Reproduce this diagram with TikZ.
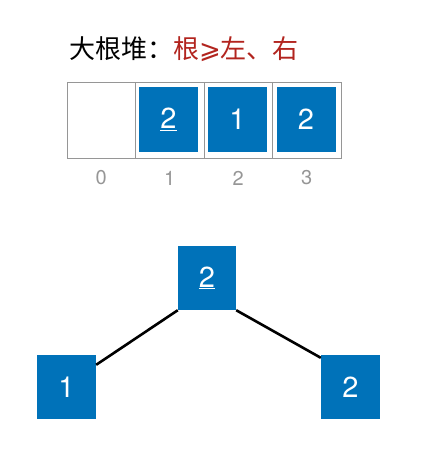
\documentclass[tikz,border=0pt]{standalone}
\usepackage{fontspec}
\setmainfont{TeX Gyre Heros}
\newfontfamily\cjk{Noto Sans CJK SC}
\newfontfamily\symf{DejaVu Sans}
\definecolor{boxblue}{RGB}{0,114,185}
\definecolor{titlered}{RGB}{178,36,30}
\definecolor{cellgray}{RGB}{150,150,150}
\tikzset{
  cellbox/.style={draw=cellgray, line width=0.8pt, minimum width=68.5pt, minimum height=76pt, inner sep=0pt},
  keybox/.style={fill=boxblue, minimum width=59pt, minimum height=65pt, inner sep=0pt, text=white, font=\fontsize{29}{33}\selectfont},
  idx/.style={text=cellgray, font=\fontsize{20}{24}\selectfont},
  edge/.style={line width=2.6pt, black}
}
\begin{document}
\begin{tikzpicture}[x=1pt,y=-1pt]
\useasboundingbox (0,0) rectangle (441,458);
% title
\node[anchor=west, inner sep=0pt, font=\cjk\fontsize{26}{30}\selectfont] (title) at (69,49) {大根堆：\textcolor{titlered}{根{\symf ⩾}左、右}};
% array cells
\foreach \i/\x in {0/101.25,1/169.75,2/238.25,3/306.75}{
  \node[cellbox] (c\i) at (\x,120) {};
  \node[idx] (i\i) at (\x,178) {\i};
}
\node[keybox] (a1) at (168.5,119.5) {\underline{2}};
\node[keybox] (a2) at (237.5,119.5) {1};
\node[keybox] (a3) at (306,119.5) {2};
% tree
\node[keybox, minimum width=58pt, minimum height=64pt] (r) at (207,278) {\underline{2}};
\node[keybox, minimum width=59pt, minimum height=64pt] (l) at (66.5,387) {1};
\node[keybox, minimum width=59pt, minimum height=64pt] (rr) at (350.5,387) {2};
\draw[edge] (r.south west) -- ([yshift=-10pt]l.north east);
\draw[edge] (r.south east) -- ([yshift=-3pt]rr.north west);
\end{tikzpicture}
\end{document}
